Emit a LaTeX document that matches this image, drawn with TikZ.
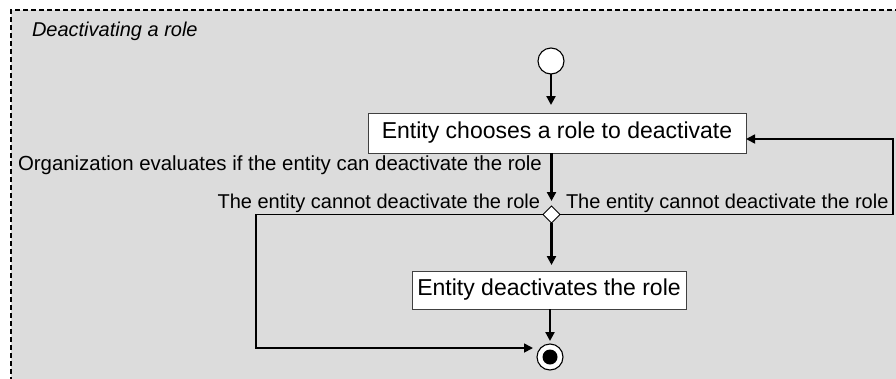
\documentclass[tikz,border=0pt]{standalone}
\usepackage{fontspec}
\setmainfont{Liberation Sans}
\usetikzlibrary{shapes.geometric,arrows.meta}
\definecolor{panelgray}{RGB}{220,220,220}
\definecolor{boxline}{RGB}{64,64,64}
\begin{document}
\begin{tikzpicture}[x=1pt,y=-1pt,
  every node/.style={inner sep=0pt, outer sep=0pt},
  action/.style={draw=boxline, line width=1pt, fill=white, font=\fontsize{23}{27}\selectfont},
  initial/.style={circle, draw=black, line width=1.1pt, fill=white, minimum size=26pt},
  final/.style={circle, draw=black, line width=1.1pt, fill=white, minimum size=26pt},
  branch/.style={diamond, draw=black, line width=1pt, fill=white, minimum width=17pt, minimum height=17pt},
  flow/.style={line width=2.4pt, -{Triangle[length=9pt,width=9pt]}},
  loop/.style={line width=1.7pt, -{Triangle[length=9pt,width=9pt]}},
  lbl/.style={font=\fontsize{20}{24}\selectfont},
  ttl/.style={font=\fontsize{20}{24}\selectfont\itshape}]
\useasboundingbox (0,0) rectangle (896,378);
\clip (0,0) rectangle (896,378);
% activity frame
\fill[panelgray] (11,10) rectangle (910,390);
\draw[line width=2.2pt, dash pattern=on 5pt off 3pt] (11,390) -- (11,10) -- (910,10);
\node[ttl, anchor=base west] (title) at (32,36) {Deactivating a role};

% nodes
\node[initial] (start) at (551,61) {};
\node[action, minimum width=378pt, minimum height=40pt] (choose) at (557,133) {Entity chooses a role to deactivate};
\node[branch] (dec) at (551.5,214.5) {};
\node[action, minimum width=274pt, minimum height=38pt] (deact) at (549,290) {Entity deactivates the role};
\node[final] (stop) at (550,357) {};
\fill[black] (stop.center) circle (7.5pt);

% guard and flow labels
\node[lbl, font=\fontsize{20.4}{24}\selectfont, anchor=base west] (orglbl) at (18,170) {Organization evaluates if the entity can deactivate the role};
\node[lbl, anchor=base east] (leftlbl) at (540,208) {The entity cannot deactivate the role};
\node[lbl, anchor=base west] (rightlbl) at (566,208) {The entity cannot deactivate the role};

% control flows
\draw[flow] (start.south) -- ([yshift=8pt]choose.north -| start);
\draw[flow] (choose.south -| dec) -- ([yshift=5pt]dec.north);
\draw[flow] (dec.south) -- ([yshift=6pt]deact.north -| dec);
\draw[flow] (deact.south -| stop) -- ([yshift=3pt]stop.north);

\coordinate (lcorner) at (256,348);
\coordinate (rcorner) at (893,139);
\draw[loop] (dec.west) -| (lcorner) -- ([xshift=-4pt]lcorner -| stop.west);
\draw[loop] (dec.east) -| (rcorner) -- (rcorner -| choose.east);
\end{tikzpicture}
\end{document}
